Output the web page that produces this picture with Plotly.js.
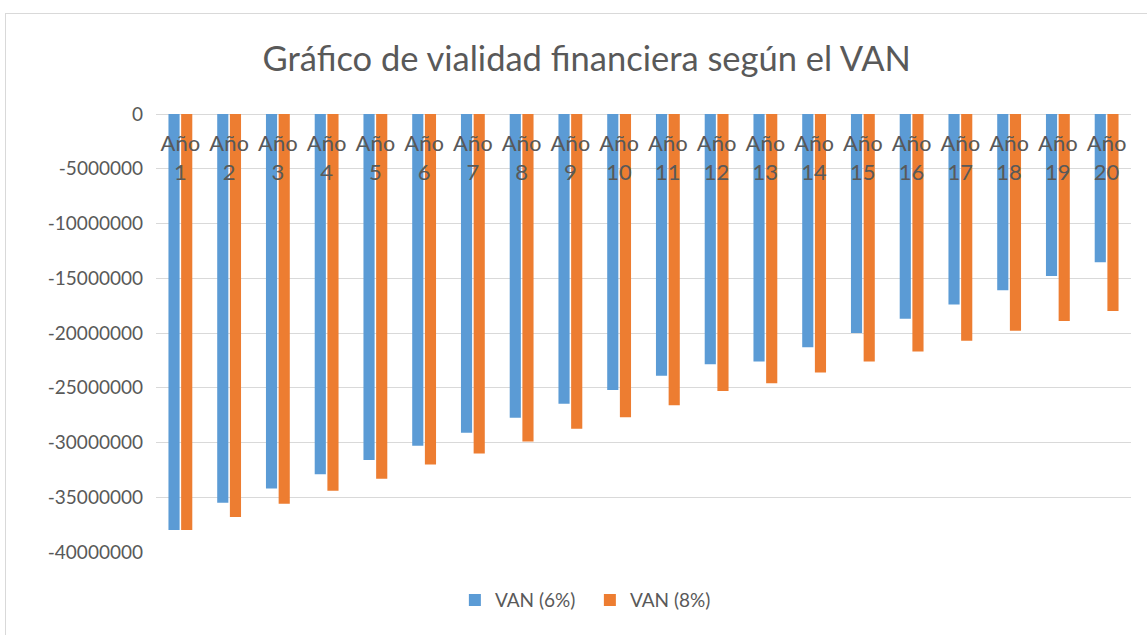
<!DOCTYPE html>
<html>
<head>
<meta charset="utf-8">
<script src="https://cdn.plot.ly/plotly-3.0.1.min.js"></script>
<style>
body{margin:0;background:#fff;}
#chart{position:absolute;left:5px;top:13px;width:1150px;height:630px;border:1px solid #d9d9d9;box-sizing:border-box;}
</style>
</head>
<body>
<div id="chart"></div>
<script>
const categories = ["Año<br>1","Año<br>2","Año<br>3","Año<br>4","Año<br>5","Año<br>6","Año<br>7","Año<br>8","Año<br>9","Año<br>10","Año<br>11","Año<br>12","Año<br>13","Año<br>14","Año<br>15","Año<br>16","Año<br>17","Año<br>18","Año<br>19","Año<br>20"];
const van6 = [-38000000,-35500000,-34200000,-32900000,-31600000,-30300000,-29100000,-27750000,-26450000,-25200000,-23900000,-22850000,-22600000,-21300000,-20000000,-18700000,-17400000,-16100000,-14800000,-13550000];
const van8 = [-38000000,-36800000,-35600000,-34400000,-33300000,-32000000,-31000000,-29900000,-28750000,-27700000,-26600000,-25300000,-24600000,-23600000,-22600000,-21700000,-20700000,-19800000,-18900000,-18000000];
const yTicks = [0,-5000000,-10000000,-15000000,-20000000,-25000000,-30000000,-35000000,-40000000];
const yTickText = ["0","-5000000","-10000000","-15000000","-20000000","-25000000","-30000000","-35000000","-40000000"];

const fontFam = "Lato, 'Noto Sans', sans-serif";
const data = [
  {type:'bar', name:'VAN (6%)', x:categories, y:van6, marker:{color:'#5B9BD5'}},
  {type:'bar', name:'VAN (8%)', x:categories, y:van8, marker:{color:'#ED7D31'}}
];
const layout = {
  width:1150, height:630,
  margin:{l:150, r:25, t:100, b:92},
  paper_bgcolor:'#fff', plot_bgcolor:'#fff',
  font:{family:fontFam, color:'#595959', size:19},
  title:{text:'Gráfico de vialidad financiera según el VAN', font:{size:34.5, color:'#595959', family:fontFam}, x:0.505, xanchor:'center', y:0.928, yanchor:'middle'},
  barmode:'group', bargap:0.48, bargroupgap:0.12,
  xaxis:{anchor:'free', position:1, side:'bottom', type:'category', showgrid:false, showline:false, ticks:'', ticklabelstandoff:14, tickfont:{size:22, color:'#595959'}, zeroline:false, fixedrange:true},
  yaxis:{range:[-40000000,0], tickvals:yTicks, ticktext:yTickText, showgrid:true, gridcolor:'#d9d9d9', gridwidth:1, zeroline:true, zerolinecolor:'#d9d9d9', zerolinewidth:1, showline:false, ticks:'', ticklabelstandoff:12, tickfont:{size:19, color:'#595959'}},
  legend:{orientation:'h', x:0.445, xanchor:'center', y:-0.11, yanchor:'middle', font:{size:19, color:'#595959'}, entrywidth:90, entrywidthmode:'pixels', traceorder:'normal'},
  showlegend:true
};
Plotly.newPlot('chart', data, layout, {displayModeBar:false, staticPlot:true});
</script>
</body>
</html>
